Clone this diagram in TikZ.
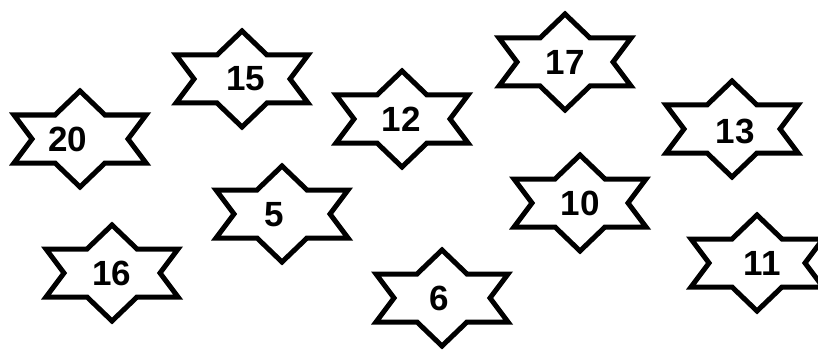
\documentclass[tikz,border=0pt]{standalone}
\usepackage{fontspec}
\setmainfont{Liberation Sans}
\begin{document}
\begin{tikzpicture}[x=1pt,y=-1pt,
  starline/.style={line width=5pt,line join=miter,draw=black,fill=white},
  numlabel/.style={font=\bfseries\fontsize{35}{36}\selectfont,text=black,inner sep=0pt},
  starpic/.pic={\path[starline] (0,-48) -- (25,-24) -- (66,-24) -- (48,0) -- (66,24) -- (25,24) -- (0,48) -- (-25,24) -- (-66,24) -- (-48,0) -- (-66,-24) -- (-25,-24) -- cycle;}]
\useasboundingbox (0,0) rectangle (818,350);
\fill[white] (0,0) rectangle (818,350);
% stars
\pic at (80,139) {starpic};
\pic at (242,79) {starpic};
\pic at (402,119) {starpic};
\pic at (565,62) {starpic};
\pic at (732,129) {starpic};
\pic at (282,214) {starpic};
\pic at (580,203) {starpic};
\pic at (112,273) {starpic};
\pic at (442,298) {starpic};
\pic at (757,263) {starpic};
% labels
\node[numlabel] (n20) at (68,139) {20};
\node[numlabel] (n15) at (246,79) {15};
\node[numlabel] (n12) at (401,119) {12};
\node[numlabel] (n17) at (565,62) {17};
\node[numlabel] (n13) at (735,131) {13};
\node[numlabel] (n5) at (274,215) {5};
\node[numlabel] (n10) at (580,203) {10};
\node[numlabel] (n16) at (112,273) {16};
\node[numlabel] (n6) at (439,298) {6};
\node[numlabel] (n11) at (762,263) {11};
\end{tikzpicture}
\end{document}
